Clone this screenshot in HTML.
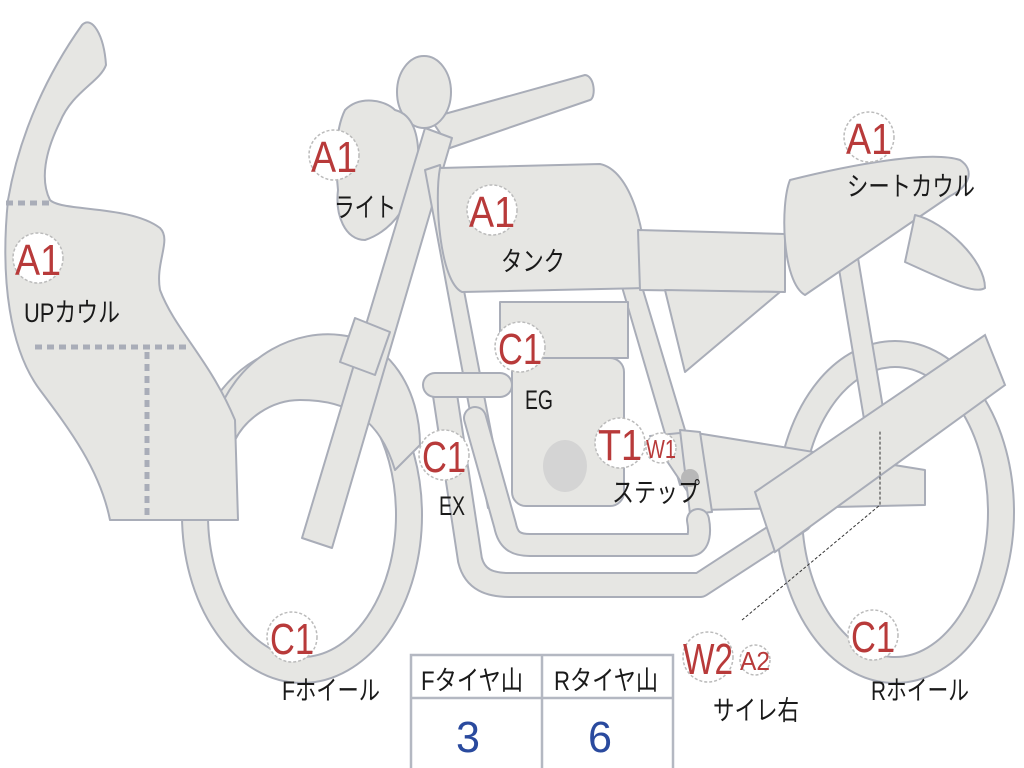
<!DOCTYPE html>
<html><head><meta charset="utf-8"><style>
html,body{margin:0;padding:0;background:#fff;}
svg{display:block}
text{font-family:"Liberation Sans","Noto Sans CJK JP",sans-serif;}
</style></head><body>
<svg width="1024" height="768" viewBox="0 0 1024 768" xmlns="http://www.w3.org/2000/svg">
<g fill="#e6e6e3" stroke="#a9adb8" stroke-width="2" stroke-linejoin="round">
<ellipse cx="302" cy="515" rx="107" ry="155" fill="none" stroke="#a9adb8" stroke-width="28"/>
<ellipse cx="302" cy="515" rx="107" ry="155" fill="none" stroke="#e6e6e3" stroke-width="24"/>
<path d="M215,420 C240,350 300,330 340,335 C390,340 420,390 420,445 L395,470 C380,420 350,400 300,400 C270,400 245,420 235,440 Z"/>
<ellipse cx="895" cy="512" rx="106" ry="158" fill="none" stroke="#a9adb8" stroke-width="28"/>
<ellipse cx="895" cy="512" rx="106" ry="158" fill="none" stroke="#e6e6e3" stroke-width="24"/>
<path d="M8,200 C20,130 50,70 82,25 C92,15 104,35 106,65 C100,82 72,92 60,122 C45,152 40,180 50,200 C62,212 130,205 160,228 C172,240 155,262 160,290 C175,330 210,360 235,420 L238,520 L110,520 C100,470 70,430 40,390 C10,350 0,280 8,200 Z"/>
<path d="M430,118 L585,75 C595,76 596,98 590,100 L450,148 Z"/>
<ellipse cx="424" cy="92" rx="27" ry="36"/>
<path d="M345,110 C360,95 385,100 395,110 C415,115 420,140 418,170 C412,200 395,230 365,240 C345,240 335,215 338,190 C335,160 335,130 345,110 Z"/>
<path d="M425,128 L452,138 L332,548 L302,538 Z"/>
<path d="M355,318 L390,332 L375,375 L340,362 Z"/>
<path d="M425,170 L440,165 L505,505 L488,508 Z"/>
<path d="M620,280 L640,280 L700,480 L680,485 Z"/>
<path d="M835,245 L855,240 L885,420 L865,425 Z"/>
<path d="M440,168 L600,164 C630,170 648,230 646,288 L462,292 C440,282 434,200 440,168 Z"/>
<path d="M638,230 L785,234 L785,292 L640,290 Z"/>
<path d="M665,290 L780,292 L685,372 Z"/>
<path d="M790,180 C850,165 930,150 960,160 C975,170 970,186 950,196 L805,295 C782,282 780,205 790,180 Z"/>
<path d="M915,215 C945,222 985,260 985,288 C975,295 945,280 905,262 Z"/>
<rect x="500" y="302" width="128" height="56"/>
<rect x="512" y="358" width="112" height="148" rx="14"/>
<ellipse cx="565" cy="466" rx="22" ry="26" fill="#d4d4d4" stroke="none"/>
<path d="M650,436 L690,432 L925,470 L925,505 L700,510 Z"/>
<path d="M680,430 L700,432 L712,512 L690,514 Z"/>
<circle cx="690" cy="478" r="9" fill="#b8b8b8" stroke="none"/>
</g>
<!-- fairing dashed lines -->
<g stroke="#a9adb8" stroke-width="5" stroke-dasharray="7,5" fill="none">
<line x1="6" y1="203" x2="50" y2="203"/>
<line x1="35" y1="347" x2="190" y2="347"/>
<line x1="147" y1="352" x2="147" y2="518"/>
</g>
<g fill="none" stroke-linejoin="round" stroke-linecap="round">
<path d="M445,385 L445,395 L470,560 C475,580 490,585 510,585 L700,585 L800,520" stroke="#a9adb8" stroke-width="26"/>
<path d="M445,385 L445,395 L470,560 C475,580 490,585 510,585 L700,585 L800,520" stroke="#e6e6e3" stroke-width="22"/>
<path d="M435,385 L500,385" stroke="#a9adb8" stroke-width="26"/>
<path d="M435,385 L500,385" stroke="#e6e6e3" stroke-width="22"/>
<path d="M475,418 L505,525 C508,540 515,545 530,545 L690,545 C700,545 700,530 698,520" stroke="#a9adb8" stroke-width="24"/>
<path d="M475,418 L505,525 C508,540 515,545 530,545 L690,545 C700,545 700,530 698,520" stroke="#e6e6e3" stroke-width="20"/>
</g>
<path d="M755,492 L985,335 L1005,385 L775,552 Z" fill="#e6e6e3" stroke="#a9adb8" stroke-width="2"/>
<path d="M742,620 L880,505 L880,430" fill="none" stroke="#333" stroke-width="1" stroke-dasharray="3,2"/>
<g fill="#fff" stroke="#bbb" stroke-width="1.5" stroke-dasharray="3,2">
<circle cx="334" cy="155" r="25"/>
<circle cx="38" cy="258" r="25"/>
<circle cx="492" cy="210" r="25"/>
<circle cx="869" cy="137" r="25"/>
<circle cx="520" cy="347" r="25"/>
<circle cx="444" cy="455" r="25"/>
<circle cx="620" cy="443" r="25"/>
<circle cx="661" cy="448" r="15"/>
<circle cx="292" cy="637" r="25"/>
<circle cx="708" cy="657" r="25"/>
<circle cx="755" cy="660" r="15"/>
<circle cx="873" cy="635" r="25"/>
</g>
<g fill="#b83a3a" font-size="44" text-anchor="middle">
<text x="334" y="172" textLength="46" lengthAdjust="spacingAndGlyphs">A1</text>
<text x="38" y="275" textLength="46" lengthAdjust="spacingAndGlyphs">A1</text>
<text x="492" y="227" textLength="46" lengthAdjust="spacingAndGlyphs">A1</text>
<text x="869" y="154" textLength="46" lengthAdjust="spacingAndGlyphs">A1</text>
<text x="520" y="364" textLength="44" lengthAdjust="spacingAndGlyphs">C1</text>
<text x="444" y="472" textLength="44" lengthAdjust="spacingAndGlyphs">C1</text>
<text x="620" y="460" textLength="44" lengthAdjust="spacingAndGlyphs">T1</text>
<text x="292" y="654" textLength="44" lengthAdjust="spacingAndGlyphs">C1</text>
<text x="708" y="674" textLength="50" lengthAdjust="spacingAndGlyphs">W2</text>
<text x="873" y="652" textLength="44" lengthAdjust="spacingAndGlyphs">C1</text>
<text x="661" y="458" font-size="26" textLength="30" lengthAdjust="spacingAndGlyphs">W1</text>
<text x="755" y="670" font-size="26" textLength="30" lengthAdjust="spacingAndGlyphs">A2</text>
</g>
<g fill="#1a1a1a" font-size="27" text-anchor="middle">
<text x="365" y="217" textLength="62" lengthAdjust="spacingAndGlyphs">ライト</text>
<text x="72" y="322" textLength="96" lengthAdjust="spacingAndGlyphs">UPカウル</text>
<text x="533" y="271" textLength="64" lengthAdjust="spacingAndGlyphs">タンク</text>
<text x="911" y="196" textLength="128" lengthAdjust="spacingAndGlyphs">シートカウル</text>
<text x="539" y="409" textLength="28" lengthAdjust="spacingAndGlyphs">EG</text>
<text x="452" y="515" textLength="26" lengthAdjust="spacingAndGlyphs">EX</text>
<text x="656" y="502" textLength="88" lengthAdjust="spacingAndGlyphs">ステップ</text>
<text x="331" y="700" textLength="98" lengthAdjust="spacingAndGlyphs">Fホイール</text>
<text x="756" y="720" textLength="86" lengthAdjust="spacingAndGlyphs">サイレ右</text>
<text x="920" y="700" textLength="98" lengthAdjust="spacingAndGlyphs">Rホイール</text>
</g>
<g fill="#fff" stroke="#b4b8c2" stroke-width="2.5">
<rect x="411" y="655" width="262" height="115"/>
<line x1="411" y1="698" x2="673" y2="698"/>
<line x1="542" y1="655" x2="542" y2="770"/>
</g>
<g text-anchor="middle">
<text x="472" y="690" font-size="27" fill="#1a1a1a" textLength="102" lengthAdjust="spacingAndGlyphs">Fタイヤ山</text>
<text x="606" y="690" font-size="27" fill="#1a1a1a" textLength="104" lengthAdjust="spacingAndGlyphs">Rタイヤ山</text>
<text x="468" y="752" font-size="44" fill="#2a4a9e" textLength="24" lengthAdjust="spacingAndGlyphs">3</text>
<text x="600" y="752" font-size="44" fill="#2a4a9e" textLength="24" lengthAdjust="spacingAndGlyphs">6</text>
</g>
</svg>
</body></html>
